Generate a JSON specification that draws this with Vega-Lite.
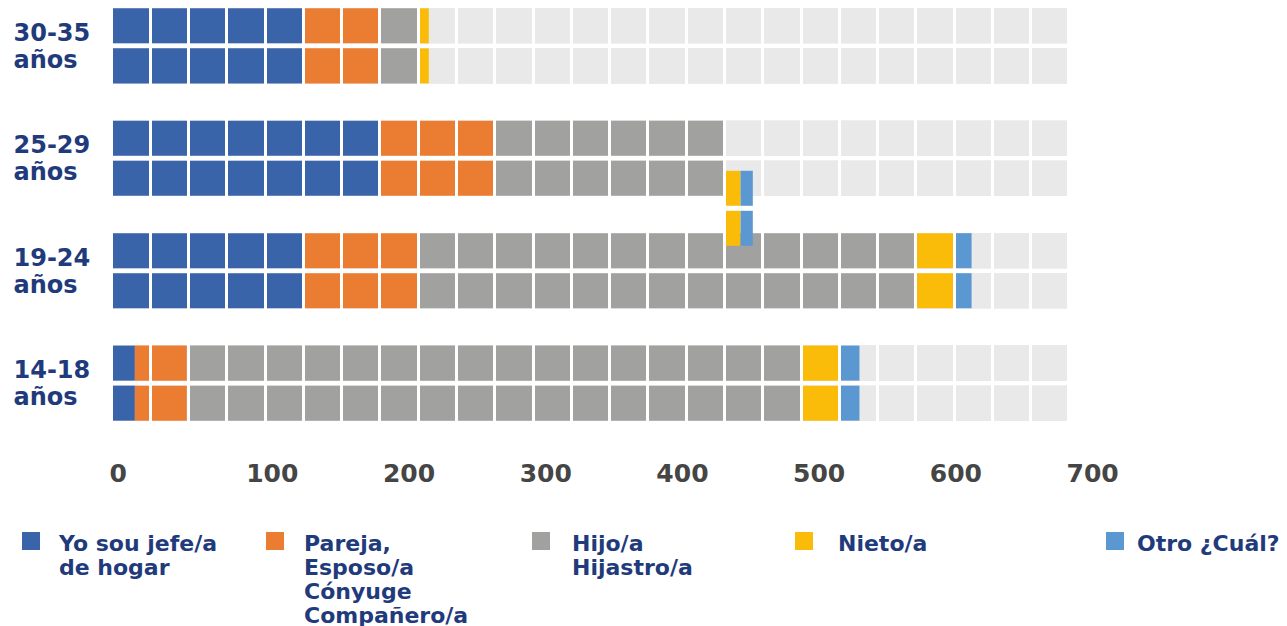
{
  "$schema": "https://vega.github.io/schema/vega-lite/v6.json",
  "width": 957,
  "height": 429,
  "padding": {"left": 13, "top": 0, "right": 0, "bottom": 0},
  "background": "white",
  "config": {"view": {"stroke": null}, "font": "DejaVu Sans"},
  "data": {"values": [
    {"group": "30-35 años", "row": "a", "cat": "Yo sou jefe/a de hogar", "value": 139},
    {"group": "30-35 años", "row": "a", "cat": "Pareja, Esposo/a Cónyuge Compañero/a", "value": 56},
    {"group": "30-35 años", "row": "a", "cat": "Hijo/a Hijastro/a", "value": 28},
    {"group": "30-35 años", "row": "a", "cat": "Nieto/a", "value": 8},
    {"group": "30-35 años", "row": "b", "cat": "Yo sou jefe/a de hogar", "value": 139},
    {"group": "30-35 años", "row": "b", "cat": "Pareja, Esposo/a Cónyuge Compañero/a", "value": 56},
    {"group": "30-35 años", "row": "b", "cat": "Hijo/a Hijastro/a", "value": 28},
    {"group": "30-35 años", "row": "b", "cat": "Nieto/a", "value": 8},
    {"group": "25-29 años", "row": "a", "cat": "Yo sou jefe/a de hogar", "value": 195},
    {"group": "25-29 años", "row": "a", "cat": "Pareja, Esposo/a Cónyuge Compañero/a", "value": 84},
    {"group": "25-29 años", "row": "a", "cat": "Hijo/a Hijastro/a", "value": 168},
    {"group": "25-29 años", "row": "a", "cat": "Nieto/a", "value": 12},
    {"group": "25-29 años", "row": "a", "cat": "Otro ¿Cuál?", "value": 9},
    {"group": "25-29 años", "row": "b", "cat": "Yo sou jefe/a de hogar", "value": 195},
    {"group": "25-29 años", "row": "b", "cat": "Pareja, Esposo/a Cónyuge Compañero/a", "value": 84},
    {"group": "25-29 años", "row": "b", "cat": "Hijo/a Hijastro/a", "value": 168},
    {"group": "25-29 años", "row": "b", "cat": "Nieto/a", "value": 12},
    {"group": "25-29 años", "row": "b", "cat": "Otro ¿Cuál?", "value": 9},
    {"group": "19-24 años", "row": "a", "cat": "Yo sou jefe/a de hogar", "value": 139},
    {"group": "19-24 años", "row": "a", "cat": "Pareja, Esposo/a Cónyuge Compañero/a", "value": 84},
    {"group": "19-24 años", "row": "a", "cat": "Hijo/a Hijastro/a", "value": 364},
    {"group": "19-24 años", "row": "a", "cat": "Nieto/a", "value": 28},
    {"group": "19-24 años", "row": "a", "cat": "Otro ¿Cuál?", "value": 13},
    {"group": "19-24 años", "row": "b", "cat": "Yo sou jefe/a de hogar", "value": 139},
    {"group": "19-24 años", "row": "b", "cat": "Pareja, Esposo/a Cónyuge Compañero/a", "value": 84},
    {"group": "19-24 años", "row": "b", "cat": "Hijo/a Hijastro/a", "value": 364},
    {"group": "19-24 años", "row": "b", "cat": "Nieto/a", "value": 28},
    {"group": "19-24 años", "row": "b", "cat": "Otro ¿Cuál?", "value": 13},
    {"group": "14-18 años", "row": "a", "cat": "Yo sou jefe/a de hogar", "value": 16},
    {"group": "14-18 años", "row": "a", "cat": "Pareja, Esposo/a Cónyuge Compañero/a", "value": 38},
    {"group": "14-18 años", "row": "a", "cat": "Hijo/a Hijastro/a", "value": 449},
    {"group": "14-18 años", "row": "a", "cat": "Nieto/a", "value": 28},
    {"group": "14-18 años", "row": "a", "cat": "Otro ¿Cuál?", "value": 15},
    {"group": "14-18 años", "row": "b", "cat": "Yo sou jefe/a de hogar", "value": 16},
    {"group": "14-18 años", "row": "b", "cat": "Pareja, Esposo/a Cónyuge Compañero/a", "value": 38},
    {"group": "14-18 años", "row": "b", "cat": "Hijo/a Hijastro/a", "value": 449},
    {"group": "14-18 años", "row": "b", "cat": "Nieto/a", "value": 28},
    {"group": "14-18 años", "row": "b", "cat": "Otro ¿Cuál?", "value": 15}
  ]},
  "transform": [
    {"calculate": "indexof(['Yo sou jefe/a de hogar','Pareja, Esposo/a Cónyuge Compañero/a','Hijo/a Hijastro/a','Nieto/a','Otro ¿Cuál?'], datum.cat)", "as": "ord"},
    {"stack": "value", "groupby": ["group", "row"], "sort": [{"field": "ord", "order": "ascending"}], "as": ["x0", "x1"]}
  ],
  "encoding": {
    "y": {
      "field": "group", "type": "nominal",
      "sort": ["30-35 años", "25-29 años", "19-24 años", "14-18 años"],
      "scale": {"paddingInner": 0.332, "paddingOuter": 0.074},
      "axis": {
        "title": null, "domain": false, "ticks": false, "tickSize": 0,
        "labelAlign": "left", "labelPadding": 100, "labelOffset": -12, "labelFont": "DejaVu Sans",
        "labelFontWeight": "bold", "labelFontSize": 24, "labelColor": "#1F3B7B",
        "labelExpr": "split(datum.label, ' ')", "labelLineHeight": 27, "labelLimit": 0
      }
    }
  },
  "layer": [
    {
      "mark": {"type": "bar", "color": "#E9E9E9"},
      "encoding": {
        "yOffset": {"field": "row", "type": "nominal", "scale": {"paddingInner": 0.125, "paddingOuter": 0}},
        "x": {
          "datum": 0, "type": "quantitative",
          "scale": {"domain": [0, 700], "nice": false, "zero": true},
          "axis": {
            "orient": "bottom", "values": [0, 100, 200, 300, 400, 500, 600, 700],
            "title": null, "grid": false, "domain": false, "ticks": false, "tickSize": 0,
            "labelAlign": "left", "labelOffset": -4, "labelPadding": 32,
            "labelFont": "DejaVu Sans", "labelFontSize": 25, "labelFontWeight": "bold",
            "labelColor": "#454545", "labelFlush": false, "labelOverlap": false
          }
        },
        "x2": {"datum": 700}
      }
    },
    {
      "transform": [{"filter": "!(datum.group == '25-29 años' && (datum.cat == 'Nieto/a' || datum.cat == 'Otro ¿Cuál?'))"}],
      "mark": {"type": "bar"},
      "encoding": {
        "yOffset": {"field": "row", "type": "nominal", "scale": {"paddingInner": 0.125, "paddingOuter": 0}},
        "x": {
          "field": "x0", "type": "quantitative",
          "scale": {"domain": [0, 700], "nice": false, "zero": true},
          "axis": {
            "orient": "top",
            "values": [26.9, 54.9, 82.9, 110.9, 138.9, 166.9, 194.9, 222.9, 250.9, 278.9, 306.9, 334.9, 362.9, 390.9, 418.9, 446.9, 474.9, 502.9, 530.9, 558.9, 586.9, 614.9, 642.9, 670.9, 698.9],
            "grid": true, "gridColor": "white", "gridWidth": 3, "gridOpacity": 1,
            "labels": false, "ticks": false, "domain": false, "title": null, "zindex": 1
          }
        },
        "x2": {"field": "x1"},
        "color": {
          "field": "cat", "type": "nominal",
          "scale": {
            "domain": ["Yo sou jefe/a de hogar", "Pareja, Esposo/a Cónyuge Compañero/a", "Hijo/a Hijastro/a", "Nieto/a", "Otro ¿Cuál?"],
            "range": ["#3A64AA", "#EB7D33", "#A1A19F", "#FBBC09", "#5B98D2"]
          },
          "legend": {
            "title": null, "orient": "none", "legendX": -93, "legendY": 530,
            "direction": "horizontal", "columns": 5, "columnPadding": 46, "padding": 0,
            "symbolType": "square", "symbolSize": 324, "symbolStrokeWidth": 0, "symbolOpacity": 1,
            "labelOffset": 17, "labelFont": "DejaVu Sans", "labelFontWeight": "bold", "labelFontSize": 22,
            "labelColor": "#1F3B7B", "labelLimit": 0, "labelBaseline": "top",
            "labelExpr": "datum.label == 'Yo sou jefe/a de hogar' ? ['Yo sou jefe/a', 'de  hogar', ' ', ' '] : datum.label == 'Pareja, Esposo/a Cónyuge Compañero/a' ? ['Pareja,', 'Esposo/a', 'Cónyuge', 'Compañero/a\u00a0\u00a0\u200b'] : datum.label == 'Hijo/a Hijastro/a' ? ['Hijo/a', 'Hijastro/a\u00a0\u00a0\u00a0\u00a0\u00a0\u00a0\u00a0\u200b', ' ', ' '] : datum.label == 'Nieto/a' ? ['Nieto/a\u00a0\u00a0\u00a0\u00a0\u00a0\u00a0\u00a0\u00a0\u00a0\u00a0\u00a0\u00a0\u00a0\u00a0\u00a0\u00a0\u00a0\u200b', ' ', ' ', ' '] : [datum.label, ' ', ' ', ' ']",
            "encode": {
              "labels": {"update": {
                "lineHeight": {"value": 24},
                "dy": {"value": -7},
                "dx": {"signal": "datum.index == 1 ? 1 : datum.index == 2 ? 3 : datum.index == 3 ? 6 : datum.index == 4 ? -6 : 0"}
              }}
            }
          }
        }
      }
    },
    {
      "transform": [{"filter": "datum.group == '25-29 años' && datum.row == 'a' && (datum.cat == 'Nieto/a' || datum.cat == 'Otro ¿Cuál?')"}],
      "mark": {"type": "bar", "height": 35, "yOffset": 30},
      "encoding": {
        "x": {"field": "x0", "type": "quantitative", "scale": {"domain": [0, 700], "nice": false, "zero": true}, "axis": null},
        "x2": {"field": "x1"},
        "color": {"field": "cat", "type": "nominal"}
      }
    },
    {
      "transform": [{"filter": "datum.group == '25-29 años' && datum.row == 'b' && (datum.cat == 'Nieto/a' || datum.cat == 'Otro ¿Cuál?')"}],
      "mark": {"type": "bar", "height": 35, "yOffset": 70},
      "encoding": {
        "x": {"field": "x0", "type": "quantitative", "scale": {"domain": [0, 700], "nice": false, "zero": true}, "axis": null},
        "x2": {"field": "x1"},
        "color": {"field": "cat", "type": "nominal"}
      }
    }
  ],
  "resolve": {"axis": {"x": "independent"}}
}
